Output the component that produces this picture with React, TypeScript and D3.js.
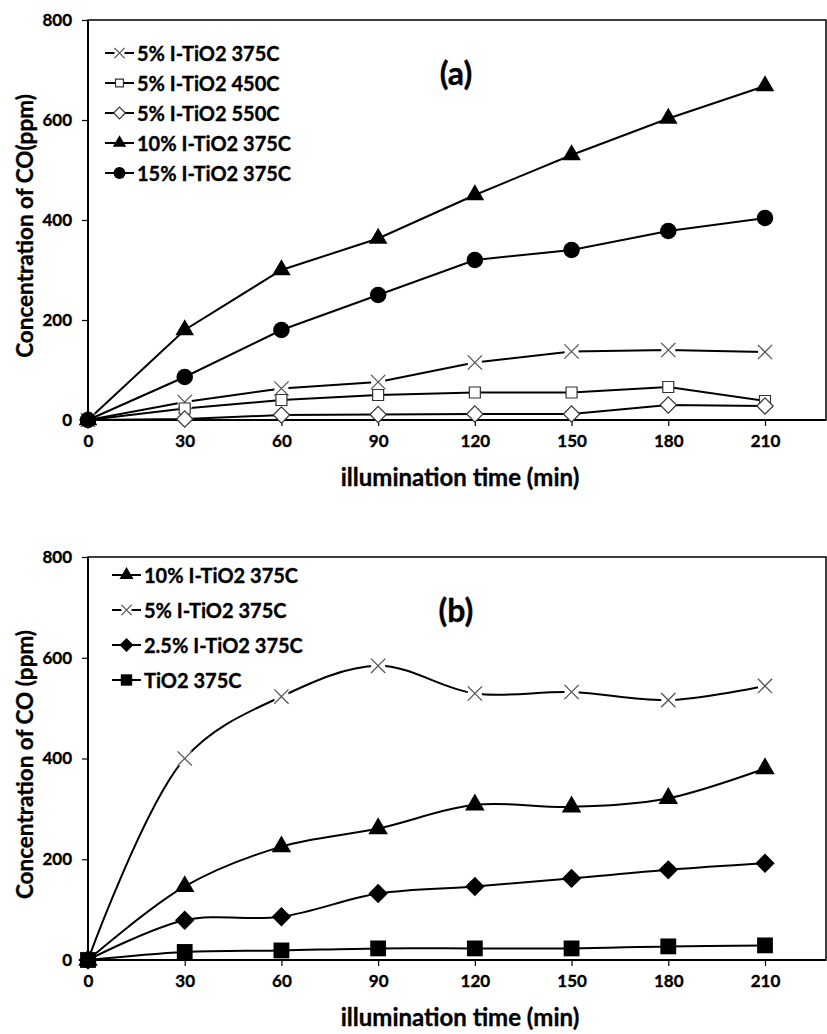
import React, { useRef, useEffect } from "react";
import * as d3 from "d3";

// illumination time (min)
const timeMin = [0, 30, 60, 90, 120, 150, 180, 210];
const xTicks = [0, 30, 60, 90, 120, 150, 180, 210];
const yTicks = [0, 200, 400, 600, 800];

// panel (a) - CO (ppm)
const a5pct375 = [0, 36, 63, 76, 115, 137, 140, 136];
const a5pct450 = [0, 23, 40, 50, 55, 55, 66, 38];
const a5pct550 = [0, 2, 10, 11, 12, 12, 30, 28];
const a10pct375 = [0, 180, 300, 363, 450, 530, 603, 668];
const a15pct375 = [0, 86, 180, 250, 320, 340, 378, 404];
const aLabels = [
  "5% I-TiO2 375C",
  "5% I-TiO2 450C",
  "5% I-TiO2 550C",
  "10% I-TiO2 375C",
  "15% I-TiO2 375C",
];

// panel (b) - CO (ppm)
const b10pct375 = [0, 146, 225, 261, 308, 304, 321, 380];
const b5pct375 = [0, 400, 523, 584, 529, 532, 516, 544];
const b25pct375 = [0, 79, 86, 132, 146, 162, 179, 192];
const bTiO2375 = [0, 16, 19, 23, 23, 23, 27, 29];
const bLabels = [
  "10% I-TiO2 375C",
  "5% I-TiO2 375C",
  "2.5% I-TiO2 375C",
  "TiO2 375C",
];

const FONT = "Lato, 'Open Sans', sans-serif";

type Marker = "times" | "squareOpen" | "diamondOpen" | "triangle" | "circle" | "diamond" | "square";

const drawMarker = (g, kind: Marker, scale: number, big: boolean) => {
  const s = scale * scale;
  if (kind === "times") {
    const r = 7 * scale;
    g.append("rect").attr("x", -r).attr("y", -r).attr("width", 2 * r).attr("height", 2 * r).attr("fill", "#fff");
    g.append("path")
      .attr("d", d3.symbol().type(d3.symbolTimes).size(135 * s)())
      .attr("fill", "none")
      .attr("stroke", "#555")
      .attr("stroke-width", 1.3);
  } else if (kind === "squareOpen") {
    g.append("path")
      .attr("d", d3.symbol().type(d3.symbolSquare).size(121 * s)())
      .attr("fill", "#fff")
      .attr("stroke", "#333")
      .attr("stroke-width", 1.2);
  } else if (kind === "diamondOpen") {
    g.append("path")
      .attr("d", d3.symbol().type(d3.symbolDiamond2).size(170 * s)())
      .attr("fill", "#fff")
      .attr("stroke", "#333")
      .attr("stroke-width", 1.2);
  } else if (kind === "triangle") {
    g.append("path")
      .attr("d", d3.symbol().type(d3.symbolTriangle).size((big ? 165 : 150) * s)())
      .attr("fill", "#000");
  } else if (kind === "circle") {
    g.append("path").attr("d", d3.symbol().type(d3.symbolCircle).size(215 * s)()).attr("fill", "#000");
  } else if (kind === "diamond") {
    g.append("path").attr("d", d3.symbol().type(d3.symbolDiamond2).size(240 * s)()).attr("fill", "#000");
  } else if (kind === "square") {
    g.append("path").attr("d", d3.symbol().type(d3.symbolSquare).size(250 * s)()).attr("fill", "#000");
  }
};

// bold text with a slight outline so Lato reads as heavy as the original
const boldText = (sel, size: number) =>
  sel
    .attr("font-family", FONT)
    .attr("font-weight", "bold")
    .attr("font-size", size)
    .attr("fill", "#000")
    .attr("stroke", "#000")
    .attr("stroke-width", 0.35);

const drawPanel = (svg, p) => {
  const x = d3.scaleLinear().domain([0, 210]).range([88, 765]);
  const y = d3.scaleLinear().domain([0, 800]).range([p.bottom, p.top]);
  const right = 826;

  // plot border
  svg
    .append("rect")
    .attr("x", x(0))
    .attr("y", y(800))
    .attr("width", right - x(0))
    .attr("height", y(0) - y(800))
    .attr("fill", "none")
    .attr("stroke", "#000")
    .attr("stroke-width", 1.5);

  // axes
  const xAxis = d3.axisBottom(x).tickValues(xTicks).tickSize(6).tickSizeOuter(0).tickFormat(d3.format("d"));
  const gx = svg.append("g").attr("transform", `translate(0, ${y(0)})`).call(xAxis);
  gx.select(".domain").remove();
  gx.selectAll("line").attr("stroke-width", 1.2);
  boldText(gx.selectAll("text"), 17).attr("dy", "1.05em");
  svg.append("line").attr("x1", x(0)).attr("x2", right).attr("y1", y(0)).attr("y2", y(0)).attr("stroke", "#000").attr("stroke-width", 2);

  const yAxis = d3.axisLeft(y).tickValues(yTicks).tickSize(6).tickSizeOuter(0).tickPadding(10);
  const gy = svg.append("g").attr("transform", `translate(${x(0)}, 0)`).call(yAxis);
  gy.select(".domain").remove();
  gy.selectAll("line").attr("stroke-width", 1.2);
  boldText(gy.selectAll("text"), 17);
  svg.append("line").attr("x1", x(0)).attr("x2", x(0)).attr("y1", y(0)).attr("y2", y(800)).attr("stroke", "#000").attr("stroke-width", 2);

  // axis titles
  boldText(
    svg
      .append("text")
      .attr("x", (x(0) + right) / 2 + 3)
      .attr("y", y(0) + 56)
      .attr("text-anchor", "middle")
      .attr("dominant-baseline", "central"),
    24
  ).text("illumination time (min)");

  boldText(
    svg
      .append("text")
      .attr("transform", `translate(24, ${(y(0) + y(800)) / 2 + 6}) rotate(-90)`)
      .attr("text-anchor", "middle")
      .attr("dominant-baseline", "central"),
    22.5
  ).text(p.yTitle);

  // panel title
  boldText(
    svg
      .append("text")
      .attr("x", 456)
      .attr("y", y(800) + 52)
      .attr("text-anchor", "middle")
      .attr("dominant-baseline", "central"),
    32
  ).text(p.title);

  // series
  const line = d3
    .line<number>()
    .x((d, i) => x(timeMin[i]))
    .y((d) => y(d));
  if (p.smooth) line.curve(d3.curveCatmullRom.alpha(0.5));

  p.series.forEach((s) => {
    svg.append("path").attr("d", line(s.values)).attr("fill", "none").attr("stroke", "#000").attr("stroke-width", 2);
  });
  p.series.forEach((s) => {
    s.values.forEach((v, i) => {
      const g = svg.append("g").attr("transform", `translate(${x(timeMin[i])}, ${y(v)})`);
      drawMarker(g, s.marker, 1, p.smooth);
    });
  });

  // legend
  p.series.forEach((s, k) => {
    const ly = p.legendTop + k * p.legendStep;
    const lg = svg.append("g");
    lg.append("line")
      .attr("x1", p.legendX)
      .attr("x2", p.legendX + 29)
      .attr("y1", ly)
      .attr("y2", ly)
      .attr("stroke", "#000")
      .attr("stroke-width", 2);
    const m = lg.append("g").attr("transform", `translate(${p.legendX + 14.5}, ${ly})`);
    drawMarker(m, s.marker, 0.72, p.smooth);
    boldText(
      lg
        .append("text")
        .attr("x", p.legendX + 32)
        .attr("y", ly)
        .attr("dominant-baseline", "central"),
      20
    ).text(s.label);
  });
};

const App = () => {
  const ref = useRef(null);

  useEffect(() => {
    document.body.style.margin = "0";
    const svg = d3.select(ref.current);
    svg.selectAll("*").remove();
    svg.append("rect").attr("width", 827).attr("height", 1034).attr("fill", "#fff");

    drawPanel(svg, {
      top: 20,
      bottom: 420,
      title: "(a)",
      yTitle: "Concentration of CO(ppm)",
      smooth: false,
      legendX: 105,
      legendTop: 53,
      legendStep: 30,
      series: [
        { values: a5pct375, marker: "times", label: aLabels[0] },
        { values: a5pct450, marker: "squareOpen", label: aLabels[1] },
        { values: a5pct550, marker: "diamondOpen", label: aLabels[2] },
        { values: a10pct375, marker: "triangle", label: aLabels[3] },
        { values: a15pct375, marker: "circle", label: aLabels[4] },
      ],
    });

    drawPanel(svg, {
      top: 557,
      bottom: 960,
      title: "(b)",
      yTitle: "Concentration of CO (ppm)",
      smooth: true,
      legendX: 112,
      legendTop: 575,
      legendStep: 35,
      series: [
        { values: b10pct375, marker: "triangle", label: bLabels[0] },
        { values: b5pct375, marker: "times", label: bLabels[1] },
        { values: b25pct375, marker: "diamond", label: bLabels[2] },
        { values: bTiO2375, marker: "square", label: bLabels[3] },
      ],
    });
  }, []);

  return <svg ref={ref} width={827} height={1034} style={{ display: "block" }} />;
};

export default App;
